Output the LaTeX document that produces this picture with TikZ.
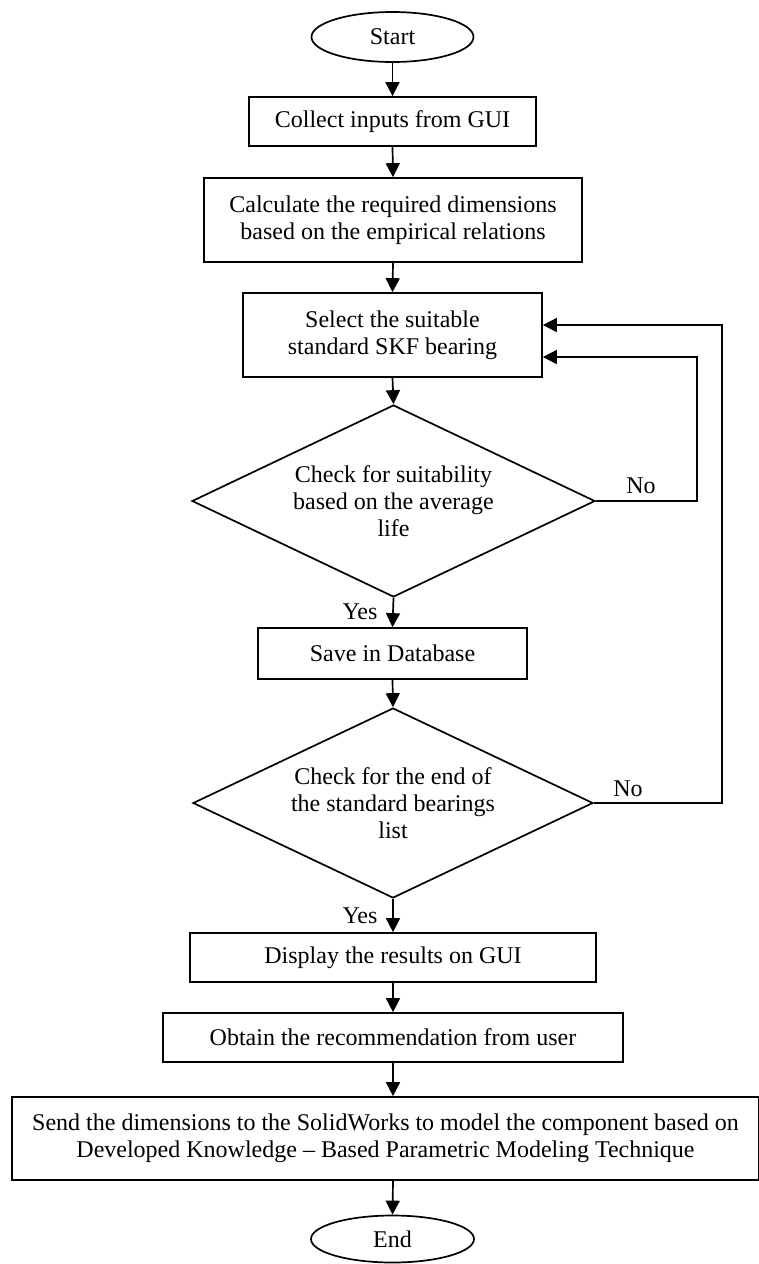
\documentclass[tikz,border=0pt]{standalone}
\usepackage{fontspec}
\setmainfont{Liberation Serif}
\usetikzlibrary{shapes.geometric,arrows.meta}
\begin{document}
\begin{tikzpicture}[x=1pt,y=-1pt,
  every node/.style={font=\fontsize{24}{27}\selectfont},
  box/.style={draw, line width=1.7pt, rectangle, inner sep=0pt, align=center},
  term/.style={draw, line width=1.7pt, ellipse, inner sep=0pt},
  dec/.style={draw, line width=1.7pt, diamond, aspect=2.1, inner sep=0pt, align=center},
  arr/.style={line width=1.7pt, -{Triangle[length=14pt,width=14pt]}},
  lbl/.style={inner sep=0pt}]
\useasboundingbox (0,0) rectangle (758,1264);

\node[term, minimum width=162pt, minimum height=50pt] (start) at (392.5,37) {Start};
\node[box, minimum width=287pt, minimum height=49pt] (collect) at (392.5,121.5) {Collect inputs from GUI};
\node[box, minimum width=378pt, minimum height=84pt] (calc) at (393,220) {Calculate the required dimensions\\based on the empirical relations};
\node[box, minimum width=299pt, minimum height=84pt] (select) at (392.5,335) {Select the suitable\\standard SKF bearing};
\node[dec, minimum width=403pt, minimum height=192pt] (d1) at (393.5,501) {Check for suitability\\based on the average\\life};
\node[box, minimum width=269pt, minimum height=51pt] (save) at (392.5,653.5) {Save in Database};
\node[dec, minimum width=400pt, minimum height=190pt] (d2) at (393,803) {Check for the end of\\the standard bearings\\list};
\node[box, minimum width=406pt, minimum height=49pt] (display) at (393,957.5) {Display the results on GUI};
\node[box, minimum width=460pt, minimum height=49pt] (obtain) at (393,1037.5) {Obtain the recommendation from user};
\node[box, minimum width=747pt, minimum height=83pt] (send) at (385.5,1138.5) {Send the dimensions to the SolidWorks to model the component based on\\Developed Knowledge -- Based Parametric Modeling Technique};
\node[term, minimum width=163pt, minimum height=47pt] (end) at (392.5,1239) {End};

\draw[arr] (start.south) -- (collect.north);
\draw[arr] (collect.south) -- (calc.north);
\draw[arr] (calc.south) -- (select.north);
\draw[arr] (select.south) -- (d1.north);
\draw[arr] (d1.south) -- (save.north);
\draw[arr] (save.south) -- (d2.north);
\draw[arr] (d2.south) -- (display.north);
\draw[arr] (display.south) -- (obtain.north);
\draw[arr] (obtain.south) -- (obtain.south |- send.north);
\draw[arr] (obtain.south |- send.south) -- (end.north);

\coordinate (c1) at (697,501);
\coordinate (c2) at (697,357);
\coordinate (c3) at (722,803);
\coordinate (c4) at (722,325);
\draw[arr] (d1.east) -- (c1) -- (c2) -- (c2 -| select.east);
\draw[arr] (d2.east) -- (c3) -- (c4) -- (c4 -| select.east);

\node[lbl] (no1) at (641,486) {No};
\node[lbl] (no2) at (628,789) {No};
\node[lbl] (yes1) at (360,612) {Yes};
\node[lbl] (yes2) at (360,916) {Yes};
\end{tikzpicture}
\end{document}
